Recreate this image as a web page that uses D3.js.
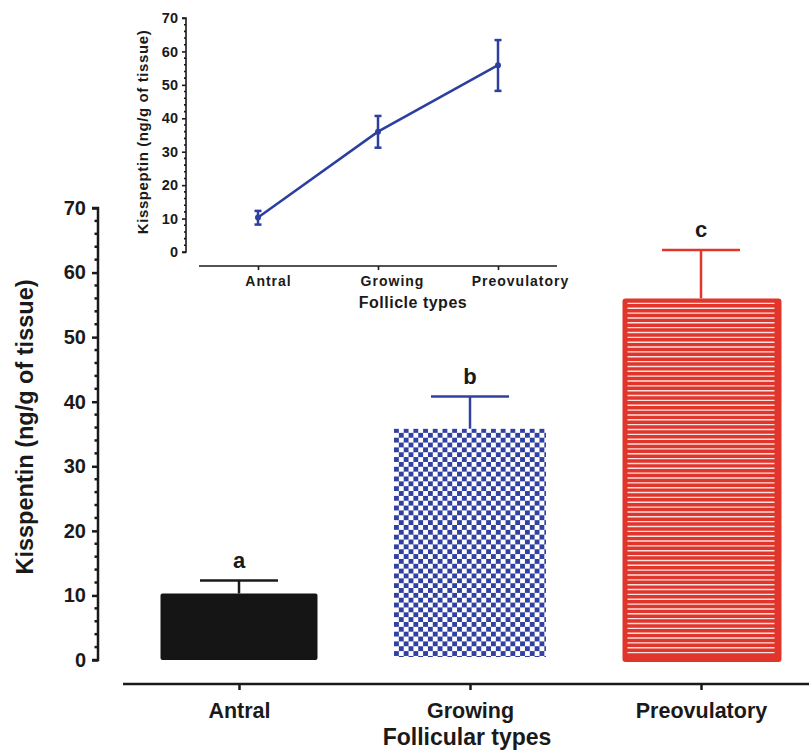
<!DOCTYPE html>
<html>
<head>
<meta charset="utf-8">
<script src="https://cdn.jsdelivr.net/npm/d3@7"></script>
<style>
  body { margin: 0; background: #fff; }
  text { font-family: "Liberation Sans", Arial, sans-serif; font-weight: bold; fill: #1a1a1a; }
</style>
</head>
<body>
<div id="chart"></div>
<script>
// data
var categories = ['Antral', 'Growing', 'Preovulatory'];
var barMeans = [10.3, 35.8, 56.0];
var barErrUpper = [12.3, 40.8, 63.5];
var barLetters = ['a', 'b', 'c'];
var insetMeans = [10.3, 36.0, 55.9];
var insetErrLow = [8.2, 31.2, 48.2];
var insetErrHigh = [12.3, 40.7, 63.4];
var yTicks = [0, 10, 20, 30, 40, 50, 60, 70];

var W = 809, H = 753;
var svg = d3.select('#chart').append('svg').attr('width', W).attr('height', H);

// ---- main bar chart ----
var y = d3.scaleLinear().domain([0, 70]).range([660, 208]);
var x = d3.scalePoint().domain(categories).range([239, 701]);
var barW = 157;

var defs = svg.append('defs');
var checker = defs.append('pattern').attr('id', 'checker')
  .attr('patternUnits', 'userSpaceOnUse').attr('width', 9.7).attr('height', 9.7)
  .attr('x', 394).attr('y', 428);
checker.append('rect').attr('width', 9.7).attr('height', 9.7).attr('fill', '#fff');
checker.append('rect').attr('width', 4.85).attr('height', 4.85).attr('fill', '#3141a1');
checker.append('rect').attr('x', 4.85).attr('y', 4.85).attr('width', 4.85).attr('height', 4.85).attr('fill', '#3141a1');

// y axis
var yAxis = svg.append('g').attr('transform', 'translate(98,0)')
  .call(d3.axisLeft(y).tickValues(yTicks).tickSize(6).tickPadding(6));
yAxis.select('.domain').attr('stroke', '#1a1a1a').attr('stroke-width', 2.5)
  .attr('d', 'M-6,' + y(70) + 'H0V' + y(0) + 'H-6');
yAxis.selectAll('.tick line').attr('stroke', '#1a1a1a').attr('stroke-width', 2.5);
yAxis.selectAll('.tick text').style('font-size', '20px').attr('fill', '#1a1a1a');
var yMinor = d3.range(0, 70, 2).filter(function (d) { return d % 10 !== 0; });
yAxis.selectAll('.minor').data(yMinor).enter().append('line')
  .attr('x1', -3.5).attr('x2', 0).attr('y1', d => y(d)).attr('y2', d => y(d))
  .attr('stroke', '#1a1a1a').attr('stroke-width', 2.5);

svg.append('text').attr('transform', 'translate(33,' + 427 + ') rotate(-90)')
  .attr('text-anchor', 'middle').style('font-size', '23.5px').text('Kisspentin (ng/g of tissue)');

// x axis
var xAxis = svg.append('g').attr('transform', 'translate(0,684)')
  .call(d3.axisBottom(x).tickSize(6).tickPadding(13));
xAxis.select('.domain').attr('stroke', '#1a1a1a').attr('stroke-width', 2.5)
  .attr('d', 'M123,0H809');
xAxis.selectAll('.tick line').attr('stroke', '#1a1a1a').attr('stroke-width', 2.5);
xAxis.selectAll('.tick text').style('font-size', '21.5px').attr('fill', '#1a1a1a');

svg.append('text').attr('x', 467).attr('y', 745).attr('text-anchor', 'middle')
  .style('font-size', '23px').text('Follicular types');

// error bars (upper only)
var errColors = ['#1a1a1a', '#3141a1', '#e0352b'];
var eb = svg.selectAll('.err').data(categories).enter().append('g');
eb.append('line').attr('x1', d => x(d)).attr('x2', d => x(d))
  .attr('y1', (d, i) => y(barMeans[i])).attr('y2', (d, i) => y(barErrUpper[i]))
  .attr('stroke', (d, i) => errColors[i]).attr('stroke-width', 2.5);
eb.append('line').attr('x1', d => x(d) - 39).attr('x2', d => x(d) + 39)
  .attr('y1', (d, i) => y(barErrUpper[i])).attr('y2', (d, i) => y(barErrUpper[i]))
  .attr('stroke', (d, i) => errColors[i]).attr('stroke-width', 2.5);
eb.append('text').attr('x', d => x(d)).attr('y', (d, i) => y(barErrUpper[i]) - 13)
  .attr('text-anchor', 'middle').style('font-size', '22px').text((d, i) => barLetters[i]);

// bars
// Antral: solid black
svg.append('rect').attr('x', x('Antral') - barW / 2).attr('y', y(barMeans[0]))
  .attr('width', barW).attr('height', y(0) - y(barMeans[0]))
  .attr('rx', 2).attr('fill', '#151515');
// Growing: checkerboard
svg.append('rect').attr('x', x('Growing') - 76).attr('y', y(barMeans[1]))
  .attr('width', 152).attr('height', y(0) - 3 - y(barMeans[1]))
  .attr('fill', 'url(#checker)');
// Preovulatory: red with white lines
var rx0 = x('Preovulatory') - barW / 2, ry0 = y(barMeans[2]);
svg.append('rect').attr('x', rx0).attr('y', ry0)
  .attr('width', barW + 2).attr('height', y(0) + 2 - ry0)
  .attr('rx', 3).attr('fill', '#e0352b');
var lineYs = d3.range(ry0 + 5, y(0) - 5, 4.85);
svg.selectAll('.hl').data(lineYs).enter().append('line')
  .attr('x1', rx0 + 5).attr('x2', rx0 + barW - 5)
  .attr('y1', d => d).attr('y2', d => d)
  .attr('stroke', '#fff').attr('stroke-width', 1.4).attr('opacity', 0.85);

// ---- inset line chart ----
var iy = d3.scaleLinear().domain([0, 70]).range([252, 18]);
var ix = d3.scalePoint().domain(categories).range([258, 498]);
var blue = '#2c3ea0';

var iyAxis = svg.append('g').attr('transform', 'translate(186,0)')
  .call(d3.axisLeft(iy).tickValues(yTicks).tickSize(4).tickPadding(4));
iyAxis.select('.domain').attr('stroke', '#1a1a1a').attr('stroke-width', 1.6)
  .attr('d', 'M-4,' + iy(70) + 'H0V' + iy(0) + 'H-4');
iyAxis.selectAll('.tick line').attr('stroke', '#1a1a1a').attr('stroke-width', 1.6);
iyAxis.selectAll('.tick text').style('font-size', '14.5px').attr('fill', '#1a1a1a');
iyAxis.selectAll('.minor').data(yMinor).enter().append('line')
  .attr('x1', -2).attr('x2', 0).attr('y1', d => iy(d)).attr('y2', d => iy(d))
  .attr('stroke', '#1a1a1a').attr('stroke-width', 1.6);

svg.append('text').attr('transform', 'translate(148,' + 132 + ') rotate(-90)')
  .attr('text-anchor', 'middle').style('font-size', '15px').style('letter-spacing', '0.6px')
  .text('Kisspeptin (ng/g of tissue)');

var ixAxis = svg.append('g').attr('transform', 'translate(0,266)')
  .call(d3.axisBottom(ix).tickSize(4).tickPadding(6));
ixAxis.select('.domain').attr('stroke', '#1a1a1a').attr('stroke-width', 1.6)
  .attr('d', 'M199,0H557');
ixAxis.selectAll('.tick line').attr('stroke', '#1a1a1a').attr('stroke-width', 1.6);
ixAxis.selectAll('.tick text').style('font-size', '14px').style('letter-spacing', '1px')
  .attr('fill', '#1a1a1a')
  .attr('dx', (d, i) => [10, 14, 22][i]);

svg.append('text').attr('x', 413).attr('y', 308).attr('text-anchor', 'middle')
  .style('font-size', '16px').style('letter-spacing', '0.5px').text('Follicle types');

var line = d3.line().x((d, i) => ix(categories[i])).y(d => iy(d));
svg.append('path').datum(insetMeans).attr('d', line)
  .attr('fill', 'none').attr('stroke', blue).attr('stroke-width', 2.5);

var ieb = svg.selectAll('.ierr').data(categories).enter().append('g');
ieb.append('line').attr('x1', d => ix(d)).attr('x2', d => ix(d))
  .attr('y1', (d, i) => iy(insetErrLow[i])).attr('y2', (d, i) => iy(insetErrHigh[i]))
  .attr('stroke', blue).attr('stroke-width', 2.5);
ieb.append('line').attr('x1', d => ix(d) - 3.5).attr('x2', d => ix(d) + 3.5)
  .attr('y1', (d, i) => iy(insetErrHigh[i])).attr('y2', (d, i) => iy(insetErrHigh[i]))
  .attr('stroke', blue).attr('stroke-width', 2.5);
ieb.append('line').attr('x1', d => ix(d) - 3.5).attr('x2', d => ix(d) + 3.5)
  .attr('y1', (d, i) => iy(insetErrLow[i])).attr('y2', (d, i) => iy(insetErrLow[i]))
  .attr('stroke', blue).attr('stroke-width', 2.5);
ieb.append('circle').attr('cx', d => ix(d)).attr('cy', (d, i) => iy(insetMeans[i]))
  .attr('r', 3).attr('fill', blue);
</script>
</body>
</html>
